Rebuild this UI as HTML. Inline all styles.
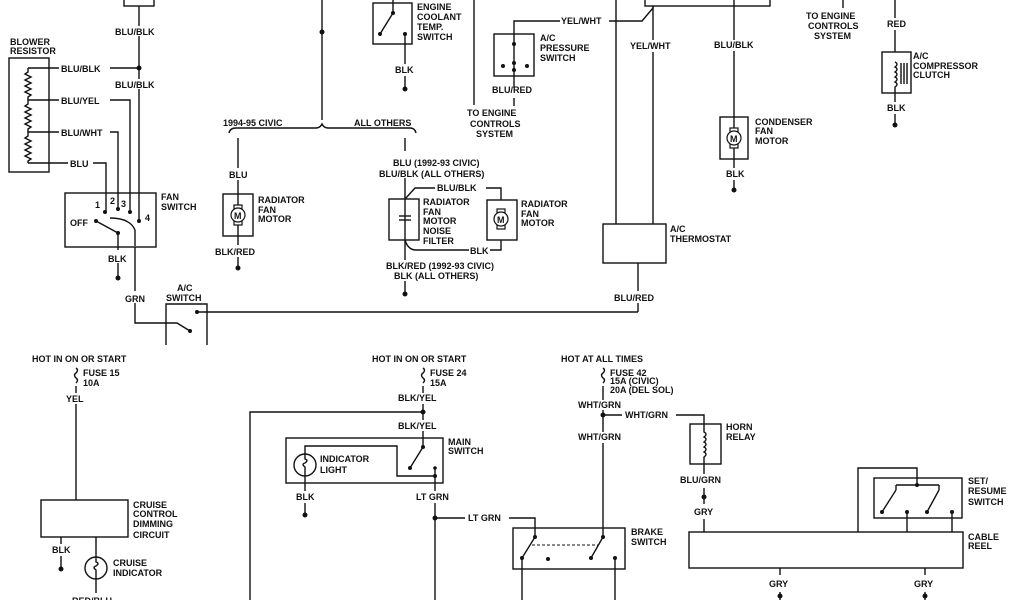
<!DOCTYPE html>
<html><head><meta charset="utf-8"><style>
html,body{margin:0;padding:0;background:#fff;}
svg{display:block;}
text{font-family:"Liberation Sans",sans-serif;font-size:9px;font-weight:bold;fill:#111;}
</style></head><body>
<svg width="1024" height="600" viewBox="0 0 1024 600" xmlns="http://www.w3.org/2000/svg">
<g stroke="#111" stroke-width="1.4" fill="none">
<!-- top-left box and main BLU/BLK wire -->
<rect x="124" y="-2" width="30" height="8"/>
<line x1="139" y1="6" x2="139" y2="26"/><line x1="139" y1="36" x2="139" y2="79"/><line x1="139" y1="89" x2="139" y2="221"/>
<!-- blower resistor -->
<rect x="9" y="58" width="40" height="114"/>
<polyline points="28,68 28,72 25,74 31,77 25,80 31,83 25,86 31,89 25,92 31,95 28,97 28,100 28,104 25,106 31,109 25,112 31,115 25,118 31,121 25,124 31,127 28,129 28,132 28,136 25,138 31,141 25,144 31,147 25,150 31,153 25,156 31,159 28,161 28,163"/>
<line x1="28" y1="68" x2="59" y2="68"/><line x1="110" y1="68" x2="139" y2="68"/>
<line x1="28" y1="100" x2="59" y2="100"/><polyline points="110,100 130,100 130,210"/>
<line x1="28" y1="132" x2="59" y2="132"/><polyline points="110,132 118,132 118,208"/>
<line x1="28" y1="163" x2="68" y2="163"/><polyline points="93,163 106,163 106,212"/>
<!-- fan switch -->
<rect x="65" y="193" width="91" height="54"/>
<line x1="96" y1="221" x2="118" y2="233"/>
<path d="M110,218 Q130,218 135,230 L135,246"/>
<line x1="118" y1="233" x2="118" y2="250"/><line x1="118" y1="263" x2="118" y2="278"/>
<line x1="135" y1="247" x2="135" y2="291"/><polyline points="135,303 135,323 177,323 190,331"/>
<!-- A/C switch -->
<polyline points="166,345 166,304 207,304 207,345"/>
<line x1="197" y1="312" x2="638" y2="312"/>
<polyline points="638,312 638,303"/><line x1="638" y1="291" x2="638" y2="263"/>
<!-- middle column -->
<line x1="322" y1="0" x2="322" y2="120"/>
<path d="M229,133 Q230,128 236,128 L316,128 Q320,128 322,124 Q324,128 328,128 L410,128 Q415,128 416,133"/>
<line x1="238" y1="138" x2="238" y2="168"/><line x1="238" y1="180" x2="238" y2="194"/>
<rect x="223" y="194" width="30" height="42"/>
<line x1="238" y1="194" x2="238" y2="236"/>
<line x1="238" y1="236" x2="238" y2="245"/><line x1="238" y1="257" x2="238" y2="268"/>
<line x1="405" y1="138" x2="405" y2="151"/><line x1="405" y1="178" x2="405" y2="260"/><line x1="405" y1="281" x2="405" y2="294"/>
<rect x="389" y="199" width="30" height="41"/>
<line x1="399" y1="216" x2="411" y2="216"/><line x1="399" y1="220" x2="411" y2="220"/>
<polyline points="405,199 415,188 435,188"/><polyline points="486,188 501,188 501,200"/>
<path d="M405,240 Q408,250 416,250 L469,250"/><polyline points="490,250 501,250 501,240"/>
<rect x="487" y="200" width="30" height="40"/>
<!-- coolant temp switch -->
<rect x="373" y="3" width="39" height="41"/>
<line x1="393" y1="0" x2="393" y2="13"/><line x1="393" y1="13" x2="380" y2="34"/>
<line x1="405" y1="34" x2="405" y2="64"/><line x1="405" y1="76" x2="405" y2="89"/>
<line x1="474" y1="0" x2="474" y2="105"/>
<!-- pressure switch -->
<rect x="494" y="34" width="40" height="42"/>
<polyline points="514,88 514,21 560,21"/><polyline points="609,21 642,21 653,8 653,6"/>
<line x1="514" y1="98" x2="514" y2="106"/>
<!-- big top box & thermostat -->
<rect x="645" y="-2" width="125" height="8"/>
<line x1="616" y1="0" x2="616" y2="224"/><line x1="653" y1="6" x2="653" y2="40"/><line x1="653" y1="52" x2="653" y2="224"/>
<rect x="603" y="224" width="63" height="39"/>
<line x1="734" y1="0" x2="734" y2="40"/><line x1="734" y1="51" x2="734" y2="117"/>
<rect x="720" y="117" width="28" height="42"/>
<line x1="734" y1="117" x2="734" y2="168"/><line x1="734" y1="180" x2="734" y2="190"/>
<line x1="843" y1="0" x2="843" y2="8"/>
<line x1="895" y1="0" x2="895" y2="18"/><line x1="895" y1="30" x2="895" y2="52"/>
<rect x="882" y="52" width="29" height="41"/>
<line x1="895" y1="93" x2="895" y2="102"/><line x1="895" y1="114" x2="895" y2="125"/>
<path d="M895,62 q4,2 0,5 q4,2 0,5 q4,2 0,5 q4,2 0,5 q4,2 0,5 L895,93"/>
<line x1="901" y1="63" x2="901" y2="84"/><line x1="904" y1="63" x2="904" y2="84"/><line x1="907" y1="63" x2="907" y2="84"/>
<!-- bottom left cruise -->
<line x1="76" y1="386" x2="76" y2="393"/><line x1="76" y1="404" x2="76" y2="500"/>
<path d="M76,368 q3,2 0,5 q-3,2 0,5 q3,2 0,5"/>
<rect x="41" y="500" width="87" height="37"/>
<line x1="61" y1="537" x2="61" y2="544"/><line x1="61" y1="556" x2="61" y2="569"/>
<line x1="96" y1="537" x2="96" y2="593"/>
<circle cx="96" cy="568" r="11" fill="#fff"/>
<path d="M96,557 L96,562 q4,1 0,4 q-4,1 0,4 L96,579"/>
<!-- main switch -->
<path d="M423,368 q3,2 0,5 q-3,2 0,5 q3,2 0,5"/>
<line x1="423" y1="386" x2="423" y2="393"/><line x1="423" y1="404" x2="423" y2="420"/><line x1="423" y1="431" x2="423" y2="447"/>
<polyline points="423,412 250,412 250,600"/>
<rect x="286" y="438" width="157" height="45"/>
<line x1="423" y1="447" x2="410" y2="468"/>
<polyline points="305,454 305,446 397,446 397,476 435,476"/>
<line x1="435" y1="468" x2="435" y2="491"/><line x1="435" y1="503" x2="435" y2="600"/>
<circle cx="305" cy="465" r="11" fill="#fff"/>
<path d="M305,454 L305,459 q4,1 0,4 q-4,1 0,4 L305,476"/>
<line x1="305" y1="476" x2="305" y2="491"/><line x1="305" y1="503" x2="305" y2="515"/>
<line x1="435" y1="518" x2="465" y2="518"/><polyline points="509,518 535,518 535,537"/>
<!-- brake switch -->
<rect x="513" y="528" width="112" height="41"/>
<line x1="535" y1="537" x2="522" y2="558"/><line x1="603" y1="537" x2="591" y2="558"/>
<line x1="532" y1="545" x2="598" y2="545" stroke-dasharray="3,2" stroke-width="1"/>
<line x1="522" y1="558" x2="522" y2="600"/><line x1="615" y1="558" x2="615" y2="600"/>
<path d="M603,368 q3,2 0,5 q-3,2 0,5 q3,2 0,5"/>
<line x1="603" y1="386" x2="603" y2="400"/><line x1="603" y1="410" x2="603" y2="432"/><line x1="603" y1="443" x2="603" y2="537"/>
<line x1="603" y1="415" x2="622" y2="415"/><polyline points="676,415 704,415 704,424"/>
<!-- horn relay -->
<rect x="690" y="424" width="31" height="40"/>
<path d="M704,424 L704,432 q4,2 0,5 q4,2 0,5 q4,2 0,5 q4,2 0,5 q4,2 0,5 L704,474"/>
<line x1="704" y1="488" x2="704" y2="504"/><line x1="704" y1="519" x2="704" y2="532"/>
<!-- cable reel -->
<rect x="689" y="532" width="274" height="36"/>
<line x1="780" y1="568" x2="780" y2="575"/><line x1="780" y1="592" x2="780" y2="600"/>
<line x1="925" y1="568" x2="925" y2="575"/><line x1="925" y1="592" x2="925" y2="600"/>
<rect x="874" y="478" width="88" height="40"/>
<polyline points="858,532 858,468 917,468 917,485"/>
<line x1="896" y1="485" x2="939" y2="485"/><line x1="896" y1="485" x2="896" y2="490"/><line x1="939" y1="485" x2="939" y2="490"/>
<line x1="896" y1="490" x2="882" y2="512"/><line x1="939" y1="490" x2="927" y2="512"/>
<line x1="907" y1="512" x2="907" y2="532"/><line x1="952" y1="512" x2="952" y2="532"/>
</g>
<g fill="#111">
<circle cx="139" cy="68" r="2.5"/><circle cx="105" cy="212" r="2"/><circle cx="118" cy="209" r="2"/><circle cx="130" cy="212" r="2"/><circle cx="139" cy="221" r="2"/>
<circle cx="96" cy="221" r="2"/><circle cx="118" cy="233" r="2"/><circle cx="118" cy="278" r="2.5"/>
<circle cx="197" cy="312" r="2"/><circle cx="190" cy="331" r="2"/>
<circle cx="322" cy="32" r="2.5"/><circle cx="238" cy="268" r="2.5"/><circle cx="405" cy="294" r="2.5"/>
<circle cx="393" cy="13" r="2"/><circle cx="380" cy="34" r="2"/><circle cx="405" cy="34" r="2"/><circle cx="405" cy="89" r="2.5"/>
<circle cx="514" cy="44" r="2"/><circle cx="503" cy="66" r="2"/><circle cx="514" cy="63" r="2"/><circle cx="527" cy="66" r="2"/><circle cx="514" cy="70" r="2"/>
<circle cx="734" cy="190" r="2.5"/><circle cx="895" cy="125" r="2.5"/>
<circle cx="61" cy="569" r="2.5"/><circle cx="423" cy="412" r="2.5"/><circle cx="423" cy="447" r="2"/><circle cx="410" cy="468" r="2"/>
<circle cx="435" cy="468" r="1.8"/><circle cx="435" cy="476" r="2"/><circle cx="305" cy="515" r="2.5"/><circle cx="435" cy="518" r="2.5"/>
<circle cx="535" cy="537" r="2"/><circle cx="522" cy="558" r="2"/><circle cx="548" cy="559" r="2"/><circle cx="603" cy="537" r="2"/><circle cx="591" cy="558" r="2"/><circle cx="615" cy="558" r="2"/>
<circle cx="603" cy="415" r="2.5"/><circle cx="704" cy="497" r="2.5"/>
<circle cx="917" cy="485" r="2"/><circle cx="882" cy="512" r="2"/><circle cx="907" cy="512" r="2"/><circle cx="927" cy="512" r="2"/><circle cx="952" cy="512" r="2"/>
<circle cx="780" cy="596" r="2.5"/><circle cx="925" cy="596" r="2.5"/>
</g>
<!-- motors -->
<g stroke="#111" stroke-width="1.2" fill="#fff">
<rect x="234" y="205" width="8" height="20"/><circle cx="238" cy="215" r="7"/>
<rect x="497" y="209" width="8" height="20"/><circle cx="501" cy="219" r="7"/>
<rect x="730" y="128" width="8" height="20"/><circle cx="734" cy="138" r="7"/>
</g>
<g style="font-size:8px;font-weight:normal">
<text x="234" y="219">M</text><text x="497" y="223">M</text><text x="730" y="142">M</text>
</g>
<g>
<text x="115" y="35">BLU/BLK</text><text x="115" y="88">BLU/BLK</text>
<text x="10" y="45">BLOWER</text><text x="10" y="54">RESISTOR</text>
<text x="61" y="72">BLU/BLK</text><text x="61" y="104">BLU/YEL</text><text x="61" y="136">BLU/WHT</text><text x="70" y="167">BLU</text>
<text x="95" y="208">1</text><text x="110" y="204">2</text><text x="121" y="207">3</text><text x="145" y="221">4</text><text x="70" y="226">OFF</text>
<text x="161" y="200">FAN</text><text x="161" y="210">SWITCH</text>
<text x="108" y="262">BLK</text><text x="125" y="302">GRN</text>
<text x="177" y="291">A/C</text><text x="166" y="301">SWITCH</text>
<text x="223" y="126">1994-95 CIVIC</text><text x="354" y="126">ALL OTHERS</text>
<text x="229" y="178">BLU</text>
<text x="258" y="203">RADIATOR</text><text x="258" y="213">FAN</text><text x="258" y="222">MOTOR</text>
<text x="215" y="255">BLK/RED</text>
<text x="393" y="166">BLU  (1992-93 CIVIC)</text><text x="379" y="177">BLU/BLK   (ALL OTHERS)</text>
<text x="437" y="191">BLU/BLK</text>
<text x="423" y="205">RADIATOR</text><text x="423" y="215">FAN</text><text x="423" y="224">MOTOR</text><text x="423" y="234">NOISE</text><text x="423" y="244">FILTER</text>
<text x="521" y="207">RADIATOR</text><text x="521" y="217">FAN</text><text x="521" y="226">MOTOR</text>
<text x="470" y="254">BLK</text>
<text x="386" y="269">BLK/RED  (1992-93 CIVIC)</text><text x="394" y="279">BLK (ALL OTHERS)</text>
<text x="417" y="10">ENGINE</text><text x="417" y="20">COOLANT</text><text x="417" y="30">TEMP.</text><text x="417" y="40">SWITCH</text>
<text x="395" y="73">BLK</text>
<text x="561" y="24">YEL/WHT</text>
<text x="540" y="41">A/C</text><text x="540" y="51">PRESSURE</text><text x="540" y="61">SWITCH</text>
<text x="492" y="93">BLU/RED</text>
<text x="467" y="116">TO ENGINE</text><text x="470" y="127">CONTROLS</text><text x="476" y="137">SYSTEM</text>
<text x="630" y="49">YEL/WHT</text><text x="714" y="48">BLU/BLK</text>
<text x="755" y="125">CONDENSER</text><text x="755" y="134">FAN</text><text x="755" y="144">MOTOR</text>
<text x="726" y="177">BLK</text>
<text x="806" y="19">TO ENGINE</text><text x="808" y="29">CONTROLS</text><text x="814" y="39">SYSTEM</text>
<text x="887" y="27">RED</text>
<text x="913" y="59">A/C</text><text x="913" y="69">COMPRESSOR</text><text x="913" y="78">CLUTCH</text>
<text x="887" y="111">BLK</text>
<text x="670" y="232">A/C</text><text x="670" y="242">THERMOSTAT</text>
<text x="614" y="301">BLU/RED</text>
<text x="32" y="362">HOT IN ON OR START</text>
<text x="83" y="376">FUSE 15</text><text x="83" y="386">10A</text>
<text x="66" y="402">YEL</text>
<text x="133" y="508">CRUISE</text><text x="133" y="517">CONTROL</text><text x="133" y="527">DIMMING</text><text x="133" y="538">CIRCUIT</text>
<text x="52" y="553">BLK</text>
<text x="113" y="566">CRUISE</text><text x="113" y="576">INDICATOR</text>
<text x="72" y="604">RED/BLU</text>
<text x="372" y="362">HOT IN ON OR START</text>
<text x="430" y="376">FUSE 24</text><text x="430" y="386">15A</text>
<text x="398" y="401">BLK/YEL</text><text x="398" y="429">BLK/YEL</text>
<text x="448" y="445">MAIN</text><text x="448" y="454">SWITCH</text>
<text x="320" y="462">INDICATOR</text><text x="320" y="473">LIGHT</text>
<text x="296" y="500">BLK</text><text x="416" y="500">LT  GRN</text><text x="468" y="521">LT  GRN</text>
<text x="631" y="535">BRAKE</text><text x="631" y="545">SWITCH</text>
<text x="561" y="362">HOT AT ALL TIMES</text>
<text x="610" y="376">FUSE 42</text><text x="610" y="384">15A (CIVIC)</text><text x="610" y="393">20A (DEL SOL)</text>
<text x="578" y="408">WHT/GRN</text><text x="625" y="418">WHT/GRN</text><text x="578" y="440">WHT/GRN</text>
<text x="726" y="430">HORN</text><text x="726" y="440">RELAY</text>
<text x="680" y="483">BLU/GRN</text><text x="694" y="515">GRY</text>
<text x="968" y="484">SET/</text><text x="968" y="494">RESUME</text><text x="968" y="505">SWITCH</text>
<text x="968" y="540">CABLE</text><text x="968" y="549">REEL</text>
<text x="769" y="587">GRY</text><text x="914" y="587">GRY</text>
</g>
</svg>
</body></html>
